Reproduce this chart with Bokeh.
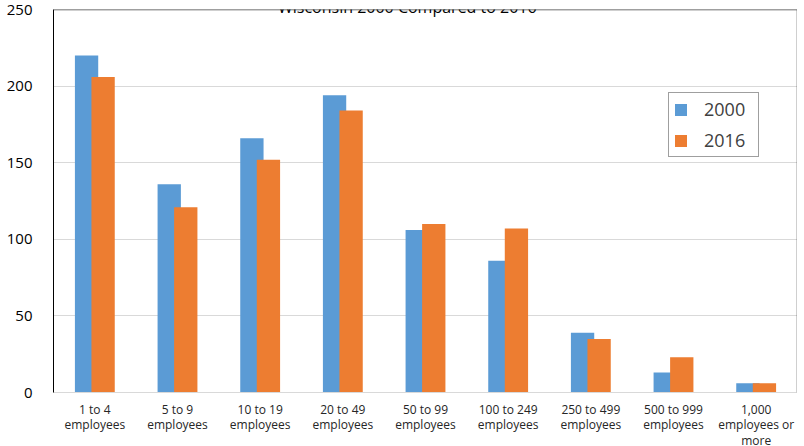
from bokeh.plotting import figure
from bokeh.models import ColumnDataSource, Label, Span, Legend, LegendItem, FixedTicker
from bokeh.embed import file_html
from bokeh.resources import INLINE

# Wisconsin establishments by size class, 2000 vs 2016
categories = ["1 to 4\nemployees", "5 to 9\nemployees", "10 to 19\nemployees",
              "20 to 49\nemployees", "50 to 99\nemployees", "100 to 249\nemployees",
              "250 to 499\nemployees", "500 to 999\nemployees", "1,000\nemployees or\nmore"]
y2000 = [220, 136, 166, 194, 106, 86, 39, 13, 6]
y2016 = [206, 121, 152, 184, 110, 107, 35, 23, 6]
title_text = "Wisconsin 2000 Compared to 2016"

pos = list(range(len(categories)))
src = ColumnDataSource(dict(
    x1=[i - 0.1 for i in pos], x2=[i + 0.1 for i in pos], y2000=y2000, y2016=y2016))

p = figure(width=797, height=458, x_range=(-0.5, 8.5), y_range=(0, 250),
           output_backend="svg", toolbar_location=None, tools="",
           min_border_left=53, min_border_right=0, min_border_top=12, min_border_bottom=63,
           styles={"margin-top": "-3px", "margin-bottom": "-14px"})
p.outline_line_color = None
p.background_fill_color = "white"
p.border_fill_color = "white"

r1 = p.vbar(x="x1", top="y2000", width=0.282, source=src, fill_color="#5B9BD5", line_color=None)
r2 = p.vbar(x="x2", top="y2016", width=0.282, source=src, fill_color="#ED7D31", line_color=None)

# axes
p.xaxis.ticker = FixedTicker(ticks=pos)
p.xaxis.major_label_overrides = {i: c for i, c in zip(pos, categories)}
p.xaxis.major_tick_line_color = None
p.xaxis.minor_tick_line_color = None
p.xaxis.axis_line_color = "#d9d9d9"
p.xaxis.major_label_text_font = "Open Sans"
p.xaxis.major_label_text_font_size = "12px"
p.xaxis.major_label_text_color = "#262626"
p.xaxis.major_label_text_line_height = 0.94
p.xaxis.major_label_standoff = 2

p.yaxis.ticker = FixedTicker(ticks=[0, 50, 100, 150, 200, 250])
p.yaxis.major_tick_line_color = None
p.yaxis.minor_tick_line_color = None
p.yaxis.axis_line_color = "black"
p.yaxis.major_label_text_font = "Open Sans"
p.yaxis.major_label_text_font_size = "15px"
p.yaxis.major_label_text_color = "black"
p.yaxis.major_label_standoff = 15

p.xgrid.grid_line_color = None
p.ygrid.grid_line_color = "#d9d9d9"
p.ygrid.grid_line_width = 1

# chart border pieces (top and right)
p.add_layout(Span(location=250, dimension="width", line_color="#404040", line_width=1.5))
p.add_layout(Span(location=8.5, dimension="height", line_color="#404040", line_width=1.5))

p.add_layout(Label(x=3.78, y=250, y_offset=3, text=title_text, text_align="center",
                   text_baseline="alphabetic", text_font="Open Sans",
                   text_font_size="16px", text_color="black"))

legend = Legend(items=[LegendItem(label="2000", renderers=[r1]),
                       LegendItem(label="2016", renderers=[r2])],
                location=(615, 235), orientation="vertical")
legend.border_line_color = "#404040"
legend.border_line_width = 1
legend.background_fill_alpha = 1
legend.label_text_font = "Open Sans"
legend.label_text_font_size = "18px"
legend.label_text_color = "#404040"
legend.glyph_width = 15
legend.glyph_height = 15
legend.label_height = 16
legend.label_width = 50
legend.label_standoff = 16
legend.spacing = 7
legend.padding = 4
legend.margin = 0
p.add_layout(legend)

open("out.html", "w").write(file_html(p, INLINE))
